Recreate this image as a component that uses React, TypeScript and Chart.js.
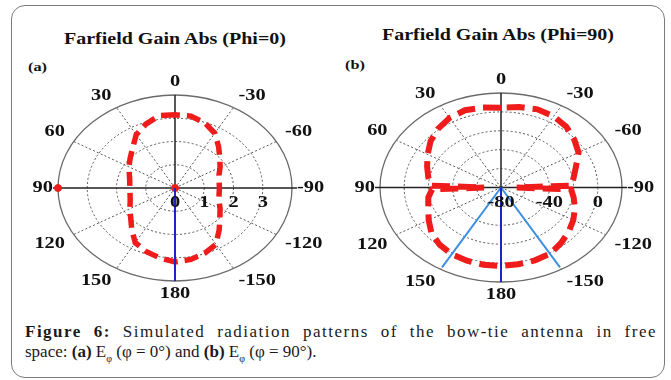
import React, { useEffect, useRef } from "react";
import { Chart, registerables } from "chart.js";

Chart.register(...registerables);

// ---------- Plot (a): Farfield Gain Abs (Phi=0), linear scale ----------
const anglesA = [0, 10, 20, 30, 40, 50, 60, 70, 80, 90, 100, 110, 120, 130, 140, 150, 160, 170,
  180, 190, 200, 210, 220, 230, 240, 250, 260, 270, 280, 290, 300, 310, 320, 330, 340, 350];
const gainA = [3.15, 3.16, 2.92, 2.65, 2.25, 2.0, 1.82, 1.66, 1.57, 1.55, 1.56, 1.63, 1.78, 1.98, 2.3, 2.72, 2.9, 3.05,
  3.18, 3.12, 2.98, 2.8, 2.35, 2.0, 1.78, 1.6, 1.53, 1.52, 1.53, 1.6, 1.78, 2.0, 2.32, 2.72, 2.98, 3.14];
const ringsA = [1, 2, 3];
const outerA = 4;
const radialTicksA = [0, 1, 2, 3];
const radialTickLabelsA = ["0", "1", "2", "3"];
const markerAnglesA = [90, 0];
const markerRadiiA = [4, 0];
const blueAnglesA = [180];

// ---------- Plot (b): Farfield Gain Abs (Phi=90), dB scale ----------
const anglesB = [0, 10, 20, 30, 40, 50, 60, 70, 80, 88, 90, 92, 100, 110, 120, 130, 140, 150, 160, 170,
  180, 190, 200, 210, 220, 230, 240, 250, 260, 268, 270, 272, 280, 290, 300, 310, 320, 330, 340, 350];
const gainB = [4.5, 6, 7, 5, 1, -4, -10, -15, -19, -22, -66, -23, -19, -16, -11, -5, -1, 1.5, 2.5, 3,
  3, 2.5, 2, 1, -3, -7, -11, -15, -19, -22, -67, -22, -19, -14, -6, -1, 4, 7, 8, 6.5];
const minB = -80;
const maxB = 20;
const ringsB = [-60, -40, -20, 0];
const radialTicksB = [-80, -40, 0];
const radialTickLabelsB = ["-80", "-40", "0"];
const markerAnglesB = [90];
const markerGainB = [47];
const darkBlueAnglesB = [180];
const lightBlueAnglesB = [150, 210];

// ---------- Common angular ticks ----------
const angleTicks = [0, 30, 60, 90, 120, 150, 180, 210, 240, 270, 300, 330];
const angleTickLabels = ["0", "30", "60", "90", "120", "150", "180", "-150", "-120", "-90", "-60", "-30"];

const RED = "#f01c1c";
const DARK_BLUE = "#1f22c8";
const LIGHT_BLUE = "#3c8fe2";
const LABEL_FONT = 'bold 17px "Liberation Serif", "Times New Roman", serif';

const toPoint = (deg: number, r: number) => {
  const t = (deg * Math.PI) / 180;
  return { x: -r * Math.sin(t), y: r * Math.cos(t) };
};

type GridCfg = {
  outer: number;
  rings: number[];
  ticks: number[];
  tickLabels: string[];
};

function makeGridPlugin(g: GridCfg) {
  const geom = (chart: any) => {
    const xs = chart.scales.x;
    const ys = chart.scales.y;
    const cx = xs.getPixelForValue(0);
    const cy = ys.getPixelForValue(0);
    const rx = (r: number) => xs.getPixelForValue(r) - cx;
    const ry = (r: number) => cy - ys.getPixelForValue(r);
    return { cx, cy, rx, ry };
  };
  return {
    id: "polarGrid",
    beforeDatasetsDraw(chart: any) {
      const ctx = chart.ctx as CanvasRenderingContext2D;
      const { cx, cy, rx, ry } = geom(chart);
      const RX = rx(g.outer);
      const RY = ry(g.outer);
      ctx.save();
      ctx.setLineDash([2, 2.2]);
      ctx.strokeStyle = "#555";
      ctx.lineWidth = 1;
      g.rings.forEach((r) => {
        ctx.beginPath();
        ctx.ellipse(cx, cy, rx(r), ry(r), 0, 0, Math.PI * 2);
        ctx.stroke();
      });
      angleTicks.forEach((a) => {
        if (a % 90 === 0) return;
        const t = (a * Math.PI) / 180;
        ctx.beginPath();
        ctx.moveTo(cx, cy);
        ctx.lineTo(cx - RX * Math.sin(t), cy - RY * Math.cos(t));
        ctx.stroke();
      });
      ctx.setLineDash([]);
      ctx.strokeStyle = "#6a6a6a";
      ctx.lineWidth = 1.3;
      ctx.beginPath();
      ctx.ellipse(cx, cy, RX, RY, 0, 0, Math.PI * 2);
      ctx.stroke();
      ctx.strokeStyle = "#222";
      ctx.lineWidth = 1.5;
      ctx.beginPath();
      ctx.moveTo(cx, cy - RY);
      ctx.lineTo(cx, cy + RY);
      ctx.moveTo(cx - RX - 5, cy);
      ctx.lineTo(cx + RX + 5, cy);
      ctx.stroke();
      ctx.restore();
    },
    afterDatasetsDraw(chart: any) {
      const ctx = chart.ctx as CanvasRenderingContext2D;
      const { cx, cy, rx, ry } = geom(chart);
      const RX = rx(g.outer);
      const RY = ry(g.outer);
      ctx.save();
      ctx.font = LABEL_FONT;
      ctx.fillStyle = "#111";
      ctx.textBaseline = "middle";
      const draw = (text: string, x: number, y: number, align: CanvasTextAlign) => {
        ctx.save();
        ctx.translate(x, y);
        ctx.scale(1.2, 1);
        ctx.textAlign = align;
        ctx.fillText(text, 0, 0);
        ctx.restore();
      };
      angleTicks.forEach((a, i) => {
        const t = (a * Math.PI) / 180;
        const s = Math.sin(t);
        const c = Math.cos(t);
        let x: number;
        let y: number;
        let align: CanvasTextAlign;
        if (Math.abs(s) < 0.01) {
          x = cx;
          y = cy - (RY + 7) * c - Math.sign(c) * 6;
          align = "center";
        } else if (Math.abs(c) < 0.01) {
          x = cx - (RX + 5) * s;
          y = cy;
          align = s > 0 ? "right" : "left";
        } else {
          x = cx - (RX + 10) * s;
          y = cy - (RY + 7) * c - Math.sign(c) * 6;
          align = s > 0 ? "right" : "left";
        }
        draw(angleTickLabels[i], x, y, align);
      });
      g.ticks.forEach((v, i) => {
        draw(g.tickLabels[i], cx + rx(v), cy + 15, "center");
      });
      ctx.restore();
    },
  };
}

function closed(angles: number[], radii: number[]) {
  const pts = angles.map((a, i) => toPoint(a, radii[i]));
  pts.push(pts[0]);
  return pts;
}

function rayData(angle: number, r: number) {
  return [toPoint(angle, 0), toPoint(angle, r)];
}

function baseOptions(R: number, padding: any, grid: GridCfg) {
  return {
    options: {
      animation: false as const,
      responsive: false,
      layout: { padding },
      scales: {
        x: { type: "linear" as const, min: -R, max: R, display: false },
        y: { type: "linear" as const, min: -R, max: R, display: false },
      },
      plugins: { legend: { display: false }, tooltip: { enabled: false } },
      elements: { point: { radius: 0 } },
    },
    plugins: [makeGridPlugin(grid)],
  };
}

function configA() {
  const grid = { outer: outerA, rings: ringsA, ticks: radialTicksA, tickLabels: radialTickLabelsA };
  const base = baseOptions(outerA, { left: 58, right: 48, top: 95, bottom: 29 }, grid);
  return {
    type: "scatter" as const,
    data: {
      datasets: [
        ...blueAnglesA.map((a) => ({
          data: rayData(a, outerA), showLine: true, borderColor: DARK_BLUE, borderWidth: 2, pointRadius: 0,
        })),
        {
          data: markerAnglesA.map((a, i) => toPoint(a, markerRadiiA[i])),
          showLine: false, pointRadius: 3.5, backgroundColor: RED, borderColor: RED, clip: false as const,
        },
        {
          data: closed(anglesA, gainA), showLine: true, borderColor: RED, borderWidth: 5.5,
          borderDash: [14, 7], pointRadius: 0, tension: 0,
        },
      ],
    },
    ...base,
  };
}

function configB() {
  const R = maxB - minB;
  const grid = {
    outer: R,
    rings: ringsB.map((v) => v - minB),
    ticks: radialTicksB.map((v) => v - minB),
    tickLabels: radialTickLabelsB,
  };
  const base = baseOptions(R, { left: 50, right: 49, top: 93, bottom: 28 }, grid);
  return {
    type: "scatter" as const,
    data: {
      datasets: [
        ...darkBlueAnglesB.map((a) => ({
          data: rayData(a, R), showLine: true, borderColor: DARK_BLUE, borderWidth: 2, pointRadius: 0,
        })),
        ...lightBlueAnglesB.map((a) => ({
          data: rayData(a, R * 0.975), showLine: true, borderColor: LIGHT_BLUE, borderWidth: 2, pointRadius: 0,
        })),
        {
          data: markerAnglesB.map((a, i) => toPoint(a, markerGainB[i] - minB)),
          showLine: false, pointRadius: 3, backgroundColor: RED, borderColor: RED, clip: false as const,
        },
        {
          data: closed(anglesB, gainB.map((v) => v - minB)), showLine: true, borderColor: RED, borderWidth: 6,
          borderDash: [18, 8], pointRadius: 0, tension: 0,
        },
      ],
    },
    ...base,
  };
}

function PolarCanvas(props: { make: () => any; left: number; top: number; width: number; height: number }) {
  const ref = useRef<HTMLCanvasElement>(null);
  useEffect(() => {
    const chart = new Chart(ref.current as HTMLCanvasElement, props.make());
    return () => chart.destroy();
  }, []);
  return (
    <canvas
      ref={ref}
      width={props.width}
      height={props.height}
      style={{ position: "absolute", left: props.left, top: props.top, width: props.width, height: props.height }}
    />
  );
}

const serif = '"Liberation Serif", "Times New Roman", serif';

export default function App() {
  const titleStyle: React.CSSProperties = {
    position: "absolute",
    width: 300,
    textAlign: "center",
    font: `bold 16px ${serif}`,
    lineHeight: "20px",
    color: "#111",
    transform: "scaleX(1.25)",
    transformOrigin: "center",
    whiteSpace: "nowrap",
  };
  const tagStyle: React.CSSProperties = {
    position: "absolute",
    font: `bold 13px ${serif}`,
    lineHeight: "16px",
    color: "#111",
    transform: "scaleX(1.25)",
    transformOrigin: "left",
  };
  const subStyle: React.CSSProperties = { fontSize: 10, lineHeight: 0, verticalAlign: "-5px" };
  return (
    <div style={{ position: "absolute", left: 0, top: 0, width: 671, height: 380, background: "#fff", overflow: "hidden" }}>
      <div
        style={{
          position: "absolute", left: 11, top: 5, width: 654, height: 373, boxSizing: "border-box",
          border: "1.5px solid #7a7a7a", borderRadius: 14,
        }}
      />
      <div style={{ ...titleStyle, left: 175 - 150, top: 29 }}>Farfield Gain Abs (Phi=0)</div>
      <div style={{ ...titleStyle, left: 498 - 150, top: 25 }}>Farfield Gain Abs (Phi=90)</div>
      <div style={{ ...tagStyle, left: 28, top: 59 }}>(a)</div>
      <div style={{ ...tagStyle, left: 345, top: 57 }}>(b)</div>
      <PolarCanvas make={configA} left={0} top={0} width={340} height={310} />
      <PolarCanvas make={configB} left={330} top={0} width={341} height={310} />
      <div
        style={{
          position: "absolute", left: 25, top: 322, width: 632, font: `17px ${serif}`, lineHeight: "20px", color: "#1a1a1a",
        }}
      >
        <div style={{ textAlign: "justify", textAlignLast: "justify" as any, whiteSpace: "nowrap", letterSpacing: "1.5px" }}>
          <b>Figure 6:</b> Simulated radiation patterns of the bow-tie antenna in free
        </div>
        <div style={{ whiteSpace: "nowrap" }}>
          space: <b>(a)</b> E<sub style={subStyle}>φ</sub> (φ = 0°) and <b>(b)</b> E<sub style={subStyle}>φ</sub> (φ = 90°).
        </div>
      </div>
    </div>
  );
}
